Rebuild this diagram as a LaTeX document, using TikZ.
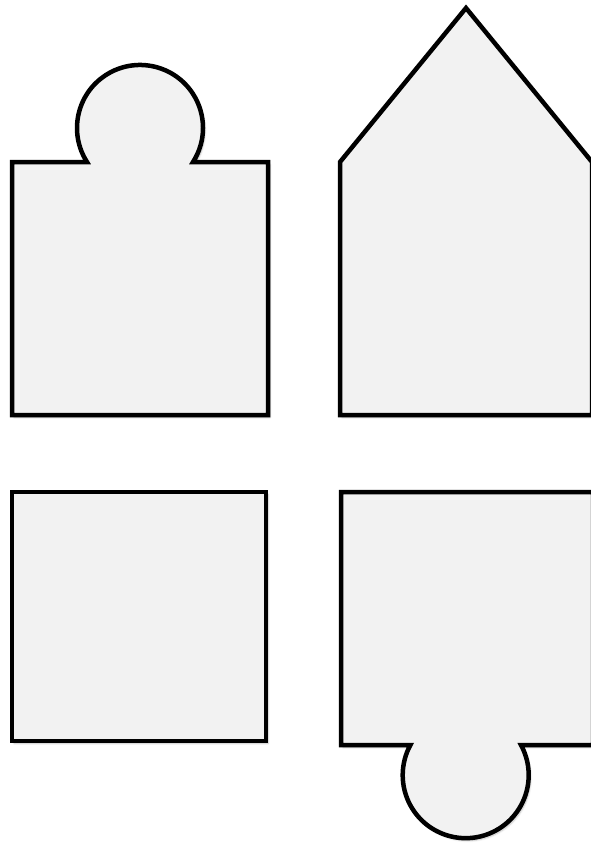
\documentclass[tikz,border=0pt]{standalone}
\usepackage{color}
\usepackage{tikz}
\usetikzlibrary{shadows.blur}

\begin{document}
\begin{tikzpicture}[x=1pt,y=1pt,
  tile/.style={draw=black,line width=4.5pt,line join=miter,fill=black!5,
    blur shadow={shadow xshift=2pt,shadow yshift=-2.5pt,shadow blur steps=6,shadow opacity=25}}]
\useasboundingbox (0,0) rectangle (591,-844);
% objects at depth 50:
\path[tile] (12,-162) -- (87,-162) arc[start angle=212.7,end angle=-32.7,radius=63]
  -- (268,-162) -- (268,-415) -- (12,-415) -- cycle;
\path[tile] (340,-415) -- (340,-162) -- (466,-8) -- (592,-162) -- (592,-415) -- cycle;
\path[tile] (12,-492) rectangle (266,-741);
\path[tile] (341,-492) -- (593,-492) -- (593,-745) -- (521,-745)
  arc[start angle=28.6,end angle=-208.6,radius=63] -- (341,-745) -- cycle;
\end{tikzpicture}
\end{document}
